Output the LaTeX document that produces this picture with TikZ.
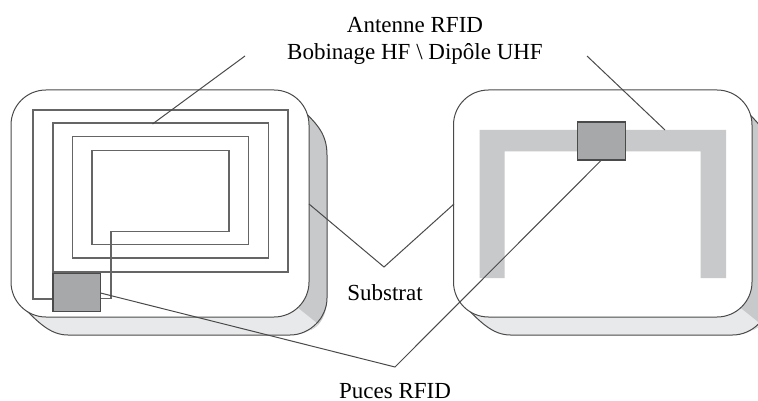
\documentclass[tikz,border=0pt]{standalone}
\usepackage{fontspec}
\setmainfont{Liberation Serif}
\definecolor{sideface}{HTML}{C8C9CB}
\definecolor{lowface}{HTML}{E8E9EA}
\definecolor{chipfill}{HTML}{A7A8AA}
\definecolor{edge}{HTML}{4A4A4A}
\tikzset{
  card/.style={draw=edge,line width=1pt,fill=white,rounded corners=35pt},
  chip/.style={draw=edge,line width=1.2pt,fill=chipfill,minimum width=47.5pt,minimum height=38pt,inner sep=0pt,outer sep=0pt},
  coil/.style={draw=edge!85,line width=1.1pt,line join=miter},
  leader/.style={draw=edge,line width=1pt},
  lab/.style={font=\fontsize{23}{27}\selectfont,align=center,text=black,inner sep=0pt}
}
\newcommand{\slab}[1]{%
  \begin{scope}[xshift=#1pt]
  \fill[sideface] (280,95) -- (300,108) .. controls (318,124) and (327,135) .. (327,155) -- (327,298) .. controls (327,315) and (320,326) .. (311,330) -- (280,310) -- cycle;
  \fill[lowface] (30,305) -- (298,308) -- (318,324) .. controls (311,331) and (303,335) .. (290,335) -- (68,335) .. controls (50,335) and (38,322) .. (22,306) -- cycle;
  \draw[edge,line width=1pt] (300,108) .. controls (318,124) and (327,135) .. (327,155) -- (327,298) .. controls (327,318) and (310,335) .. (290,335) -- (68,335) .. controls (50,335) and (38,322) .. (22,306);
  \end{scope}}
\begin{document}
\begin{tikzpicture}[x=1pt,y=-1pt]
\useasboundingbox (0,0) rectangle (758,401);
\begin{scope}
\clip (0,0) rectangle (758,401);
\slab{0}
\slab{442.5}
\end{scope}
\path[card] (11,90) rectangle (309,317);
\path[card] (453.5,90) rectangle (752,317);
% spiral coil
\draw[coil] (53,299) -- (33,299) -- (33,110) -- (288,110) -- (288,272) -- (53,272) -- (53,123) -- (268.5,123) -- (268.5,258) -- (72.5,258) -- (72.5,136.5) -- (248.5,136.5) -- (248.5,244.5) -- (92,244.5) -- (92,150.5) -- (229,150.5) -- (229,231.5) -- (111,231.5) -- (111,298.5) -- (100,298.5);
% dipole
\fill[sideface] (479.5,278) -- (479.5,130) -- (726,130) -- (726,278) -- (700.5,278) -- (700.5,151.5) -- (504.5,151.5) -- (504.5,278) -- cycle;
% chips
\node[chip] (chipL) at (76.75,292.5) {};
\node[chip] (chipR) at (601.5,141) {};
% labels
\node[lab] (ant) at (415,40.5) {Antenne RFID\\Bobinage HF \textbackslash{} Dipôle UHF};
\node[lab] (sub) at (385,293) {Substrat};
\node[lab] (puc) at (395,391.5) {Puces RFID};
% leader points
\coordinate (a1) at (245,56);
\coordinate (a2) at (152.5,124);
\coordinate (b1) at (587,56);
\coordinate (b2) at (665,130);
\coordinate (s1) at (309,204);
\coordinate (s0) at (384,267);
\coordinate (s2) at (454,204);
\coordinate (p0) at (395,367);
\draw[leader] (a1) -- (a2);
\draw[leader] (b1) -- (b2);
\draw[leader] (s1) -- (s0) -- (s2);
\draw[leader] (chipL.east |- 0,293) -- (p0) -- (chipR.south);
\end{tikzpicture}
\end{document}
